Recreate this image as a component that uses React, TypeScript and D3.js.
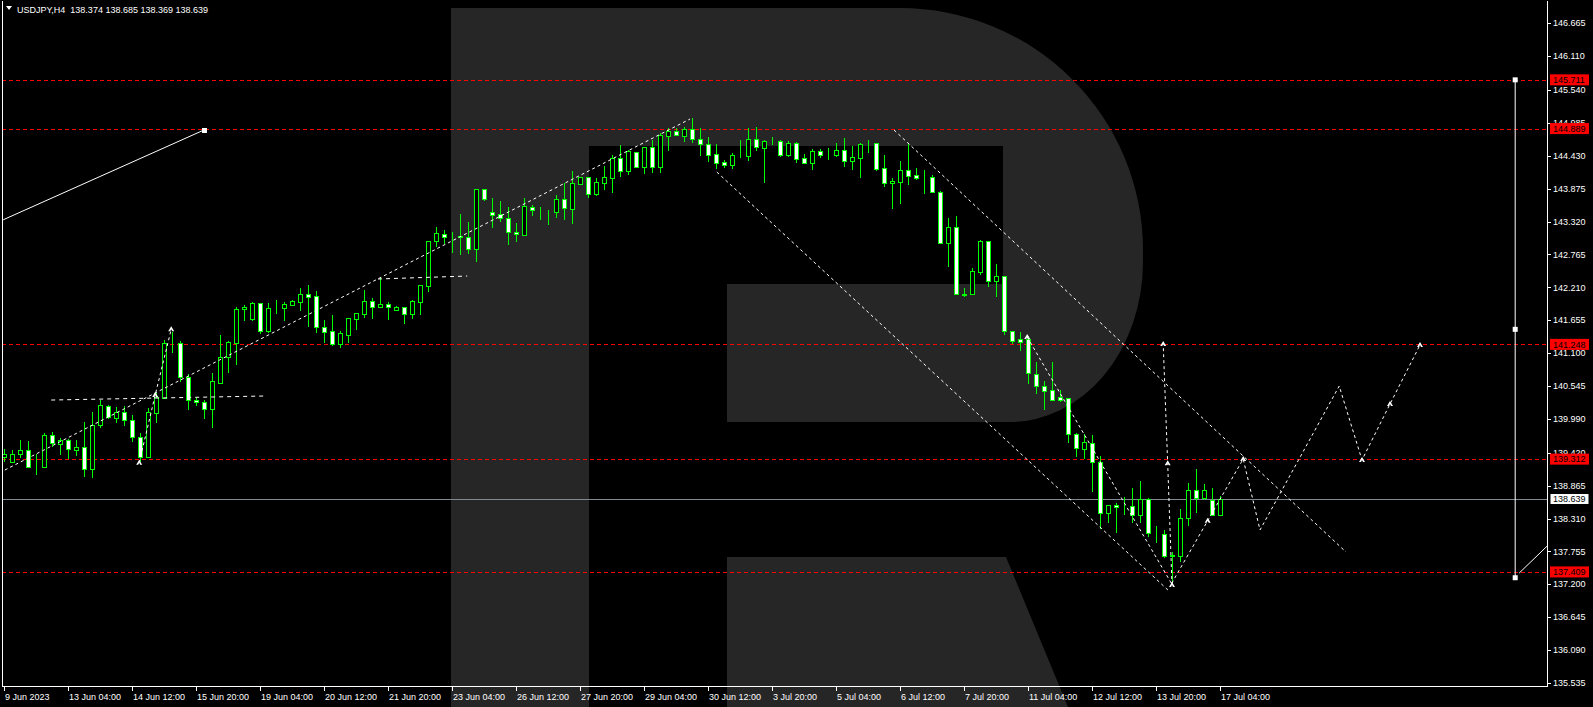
import React from 'react';
import * as d3 from 'd3';

const W = 1593, H = 707;

// OHLC, H4 bars (index 0 = 9 Jun 20:00)
const opens = [139.341,139.268,139.403,139.460,139.190,139.184,139.718,139.572,139.628,139.471,139.516,139.139,139.881,140.208,140.011,140.101,139.971,139.684,139.341,140.084,140.348,141.265,141.265,140.691,140.303,140.269,140.151,140.601,141.029,141.276,141.839,141.670,141.940,141.479,141.855,141.856,141.918,141.957,142.092,142.059,141.536,141.468,141.260,141.412,141.682,141.760,141.974,141.873,141.924,141.834,141.873,141.766,141.969,142.238,142.986,143.105,143.080,143.065,143.054,142.852,143.869,143.476,143.442,143.375,143.138,143.099,143.560,143.509,143.500,143.487,143.695,143.538,143.959,144.066,143.791,143.976,144.061,144.387,144.179,144.488,144.246,144.572,144.246,144.769,144.842,144.764,144.876,144.707,144.623,144.454,144.325,144.269,144.437,144.432,144.707,144.567,144.680,144.674,144.449,144.640,144.387,144.314,144.511,144.449,144.449,144.527,144.347,144.398,144.650,144.640,144.218,143.965,143.993,144.190,144.100,144.060,144.066,143.824,142.952,143.234,142.086,142.103,142.474,142.986,142.311,142.407,141.468,141.333,141.338,140.742,140.540,140.472,140.354,140.337,139.730,139.488,139.589,139.269,138.397,138.532,138.520,138.515,138.363,138.633,138.060,138.043,137.683,137.683,138.313,138.785,138.650,138.622,138.374];
const highs = [139.482,139.465,139.634,139.617,139.392,139.746,139.769,139.662,139.645,139.634,139.938,140.106,140.309,140.225,140.196,140.208,140.056,139.758,140.179,140.433,141.321,141.462,141.304,140.748,140.365,140.309,140.770,141.405,141.304,141.872,141.912,141.968,141.951,141.940,141.997,141.963,141.997,142.205,142.250,142.148,141.659,141.744,141.474,141.687,141.772,142.165,142.030,142.362,141.963,141.901,141.884,141.997,142.244,142.998,143.234,143.178,143.144,143.448,143.313,143.869,143.869,143.718,143.667,143.560,143.290,143.712,143.600,143.571,143.515,143.768,143.965,144.179,144.066,144.066,144.049,144.257,144.443,144.612,144.527,144.499,144.584,144.696,144.820,144.893,144.893,144.910,145.062,144.893,144.741,144.629,144.359,144.471,144.696,144.893,144.910,144.696,144.747,144.696,144.674,144.662,144.460,144.539,144.539,144.561,144.651,144.730,144.595,144.651,144.696,144.640,144.443,144.049,144.342,144.640,144.224,144.190,144.106,143.841,143.374,143.414,142.193,142.531,143.009,142.986,142.604,142.407,141.479,141.450,141.389,140.945,140.630,140.950,140.472,140.337,139.747,139.736,139.719,139.365,138.532,138.577,138.667,138.819,138.943,138.650,138.183,138.116,137.739,138.470,138.903,139.145,138.892,138.819,138.685];
const lows = [139.268,139.240,139.325,139.156,139.043,139.167,139.521,139.381,139.319,139.364,139.015,138.998,139.831,139.983,139.926,139.870,139.606,139.268,139.325,139.926,140.337,141.107,140.618,140.140,140.208,139.988,139.842,140.590,140.770,140.899,141.647,141.647,141.422,141.434,141.760,141.648,141.901,141.817,141.536,141.446,141.266,141.221,141.192,141.266,141.491,141.699,141.676,141.873,141.659,141.828,141.592,141.676,141.744,142.137,142.897,142.941,142.795,142.756,142.778,142.643,143.673,143.211,143.318,142.925,142.981,143.099,143.420,143.346,143.262,143.386,143.346,143.279,143.937,143.723,143.751,143.853,143.808,144.078,144.106,144.218,144.123,144.145,144.145,144.516,144.764,144.668,144.651,144.426,144.331,144.201,144.218,144.201,144.398,144.347,144.516,143.976,144.617,144.415,144.415,144.314,144.302,144.190,144.398,144.359,144.404,144.246,144.190,144.061,144.482,144.179,143.909,143.532,143.616,143.937,144.021,143.785,143.808,142.940,142.559,142.081,142.053,142.092,142.418,142.221,142.053,141.406,141.254,141.142,140.579,140.410,140.140,140.309,140.281,139.589,139.353,139.308,138.763,138.133,138.240,138.060,138.369,138.228,138.228,138.003,137.902,137.638,137.216,137.582,138.189,138.397,138.622,138.358,138.369];
const closes = [139.392,139.392,139.460,139.184,139.200,139.718,139.589,139.628,139.476,139.516,139.139,139.881,140.219,140.028,140.101,139.966,139.679,139.341,140.101,140.365,141.265,141.276,140.691,140.309,140.269,140.151,140.629,141.029,141.282,141.839,141.878,141.940,141.479,141.855,141.860,141.924,141.974,142.092,142.053,141.536,141.462,141.260,141.434,141.687,141.772,141.980,141.873,141.924,141.873,141.879,141.766,141.974,142.244,142.986,143.121,143.065,143.082,143.070,142.863,143.869,143.706,143.436,143.375,143.138,143.105,143.577,143.509,143.510,143.498,143.695,143.543,143.965,144.066,143.791,143.982,144.066,144.387,144.179,144.511,144.246,144.572,144.246,144.780,144.842,144.786,144.876,144.707,144.623,144.449,144.314,144.280,144.437,144.440,144.707,144.584,144.674,144.685,144.449,144.640,144.370,144.314,144.511,144.449,144.450,144.527,144.347,144.404,144.629,144.651,144.212,143.965,144.004,144.190,144.094,144.061,144.061,143.824,142.952,143.222,142.092,142.090,142.480,142.986,142.311,142.407,141.468,141.299,141.293,140.759,140.540,140.467,140.315,140.315,139.730,139.494,139.595,139.269,138.397,138.532,138.498,138.526,138.363,138.633,138.060,138.062,137.677,137.690,138.313,138.785,138.650,138.785,138.374,138.639];

const timeLabels = ["9 Jun 2023","13 Jun 04:00","14 Jun 12:00","15 Jun 20:00","19 Jun 04:00","20 Jun 12:00","21 Jun 20:00","23 Jun 04:00","26 Jun 12:00","27 Jun 20:00","29 Jun 04:00","30 Jun 12:00","3 Jul 20:00","5 Jul 04:00","6 Jul 12:00","7 Jul 20:00","11 Jul 04:00","12 Jul 12:00","13 Jul 20:00","17 Jul 04:00"];
const priceTicks = [146.665,146.110,145.540,144.985,144.430,143.875,143.320,142.765,142.210,141.655,141.100,140.545,139.990,139.420,138.865,138.310,137.755,137.200,136.645,136.090,135.535];
const levels = [145.711,144.889,141.248,139.312,137.409];
const lastPrice = 138.639;
const header = "USDJPY,H4  138.374 138.685 138.369 138.639";

// annotations as [bar index, price]
const solidTrend = [[-0.1,143.35],[25,144.865]];
const flatA = [[5.9,140.309],[32.6,140.377]];
const flatB = [[46.75,142.351],[57.9,142.401]];
const riseTrend = [[0.1,139.128],[85.75,145.05]];
const waveLeft = [[16.9,139.251],[18.9,140.394],[20.9,141.502]];
const channelLow = [[89.1,144.156],[145.5,137.103]];
const channelHigh = [[111.25,144.865],[167.75,137.745]];
const waveDrop = [[127.9,141.372],[145.9,137.222]];
const waveSpike = [[146.0,137.188],[145.46,139.241],[144.9,141.254]];
const forecast = [[145.96,137.217],[150.46,138.273],[154.9,139.314],[157,138.116],[166.9,140.545],[169.75,139.297],[173.25,140.242],[177,141.237]];
const forecastMarks = [[150.46,138.273],[154.9,139.314],[169.75,139.297],[173.25,140.242],[177,141.237]];
const rangeBar = [[188.9,145.711],[188.9,141.502],[188.9,137.311]];
const rangeTail = [[189.4,137.39],[192.9,137.846]];

const FONT = "'Liberation Sans', Arial, sans-serif";

export default function App() {
  const x = d3.scaleLinear().domain([0, 152]).range([4, 1220]);
  const y = d3.scaleLinear().domain([135.535, 146.665]).range([683, 23.3]);
  const line = d3.line<number[]>().x(d => x(d[0])).y(d => y(d[1]));
  const plotR = 1547, plotB = 686;

  const marker = (p: number[], i: number) => {
    const cx = x(p[0]), cy = y(p[1]);
    return <path key={i} d={`M${cx - 3},${cy + 2} L${cx},${cy - 3} L${cx + 3},${cy + 2} L${cx + 1},${cy + 2} L${cx},${cy} L${cx - 1},${cy + 2} Z`} fill="#fff" />;
  };

  const dashed = { stroke: '#fff', strokeWidth: 1, fill: 'none', strokeDasharray: '3,3' };

  return (
    <div style={{ position: 'absolute', left: 0, top: 0 }}>
      <svg width={W} height={H} style={{ display: 'block', background: '#000' }}>
        <rect x={0} y={0} width={W} height={H} fill="#000" />
        <defs>
          <clipPath id="plot"><rect x={2} y={0} width={plotR - 2} height={plotB} /></clipPath>
        </defs>
        {/* watermark */}
        <g fill="#262626">
          <rect x={451} y={8} width={138} height={699} />
          <path d="M589,8 H900 A243,242 0 0 1 1143,250 V262 A133,160 0 0 1 1010,422 H727 V284 H1003 V146 H589 Z" />
          <path d="M727,557 H1006 L1068,707 H727 Z" />
        </g>
        {/* level lines */}
        {levels.map((v, i) => (
          <line key={i} x1={2} x2={plotR} y1={Math.round(y(v)) + 0.5} y2={Math.round(y(v)) + 0.5} stroke="#ff0000" strokeDasharray="4,3" />
        ))}
        <line x1={2} x2={plotR} y1={Math.round(y(lastPrice)) + 0.5} y2={Math.round(y(lastPrice)) + 0.5} stroke="#7f8893" />
        {/* candles */}
        <g shapeRendering="crispEdges">
          {opens.map((o, i) => {
            const c = closes[i];
            const cx = Math.round(x(i));
            const top = y(Math.max(o, c)), bot = y(Math.min(o, c));
            const bull = c >= o;
            return (
              <g key={i}>
                <line x1={cx + 0.5} x2={cx + 0.5} y1={y(highs[i])} y2={y(lows[i])} stroke="#00ff00" />
                <rect x={cx - 1.5} y={Math.round(top) + 0.5} width={4} height={Math.max(0, Math.round(bot) - Math.round(top))} fill={bull ? '#000' : '#fff'} stroke="#00ff00" />
              </g>
            );
          })}
        </g>
        {/* annotations */}
        <g clipPath="url(#plot)">
          <path d={line(solidTrend) || ''} stroke="#fff" fill="none" />
          <rect x={x(solidTrend[1][0]) - 2} y={y(solidTrend[1][1]) - 2} width={5} height={5} fill="#fff" />
          <path d={line(flatA) || ''} {...dashed} strokeDasharray="4,4" />
          <path d={line(flatB) || ''} {...dashed} strokeDasharray="4,4" />
          <path d={line(riseTrend) || ''} {...dashed} />
          <path d={line(waveLeft) || ''} {...dashed} />
          <path d={line(channelLow) || ''} {...dashed} />
          <path d={line(channelHigh) || ''} {...dashed} />
          <path d={line(waveDrop) || ''} {...dashed} />
          <path d={line(waveSpike) || ''} {...dashed} />
          <path d={line(forecast) || ''} {...dashed} />
          {waveLeft.map(marker)}
          {[waveDrop[0]].map((p, i) => marker(p, 100 + i))}
          {waveSpike.map((p, i) => marker(p, 200 + i))}
          {forecastMarks.map((p, i) => marker(p, 300 + i))}
          <path d={line(rangeBar) || ''} stroke="#fff" fill="none" />
          {rangeBar.map((p, i) => (
            <rect key={i} x={x(p[0]) - 2.5} y={y(p[1]) - 2.5} width={5} height={5} fill="#fff" />
          ))}
          <path d={line(rangeTail) || ''} stroke="#fff" fill="none" />
        </g>
        {/* frame */}
        <g stroke="#fff" shapeRendering="crispEdges">
          <line x1={2.5} x2={2.5} y1={1} y2={plotB} />
          <line x1={plotR + 0.5} x2={plotR + 0.5} y1={1} y2={plotB} />
          <line x1={2} x2={plotR + 1} y1={plotB + 0.5} y2={plotB + 0.5} />
        </g>
        {/* price axis */}
        <g fontFamily={FONT} fontSize={9} fill="#fff">
          {priceTicks.map((v, i) => (
            <g key={i}>
              <line x1={plotR} x2={plotR + 4} y1={Math.round(y(v)) + 0.5} y2={Math.round(y(v)) + 0.5} stroke="#fff" />
              <text x={1553} y={y(v)} dy="0.35em">{v.toFixed(3)}</text>
            </g>
          ))}
          {levels.map((v, i) => (
            <g key={'l' + i}>
              <rect x={1550} y={y(v) - 5.5} width={39} height={11} fill="#ff0000" />
              <text x={1553} y={y(v)} dy="0.35em" fill="#000">{v.toFixed(3)}</text>
            </g>
          ))}
          <rect x={1550} y={y(lastPrice) - 5.5} width={39} height={11} fill="#fff" stroke="#000" />
          <text x={1553} y={y(lastPrice)} dy="0.35em" fill="#000">{lastPrice.toFixed(3)}</text>
        </g>
        {/* time axis */}
        <g fontFamily={FONT} fontSize={9} fill="#fff">
          {timeLabels.map((t, i) => {
            const tx = Math.round(x(i * 8));
            return (
              <g key={i}>
                <line x1={tx + 0.5} x2={tx + 0.5} y1={plotB} y2={plotB + 5} stroke="#fff" />
                <text x={tx + 1} y={700}>{t}</text>
              </g>
            );
          })}
        </g>
        {/* header */}
        <path d="M6,6 L12,6 L9,10 Z" fill="#fff" />
        <text x={17} y={13} fontFamily={FONT} fontSize={9} fill="#fff" style={{ whiteSpace: 'pre' }}>{header}</text>
      </svg>
    </div>
  );
}
